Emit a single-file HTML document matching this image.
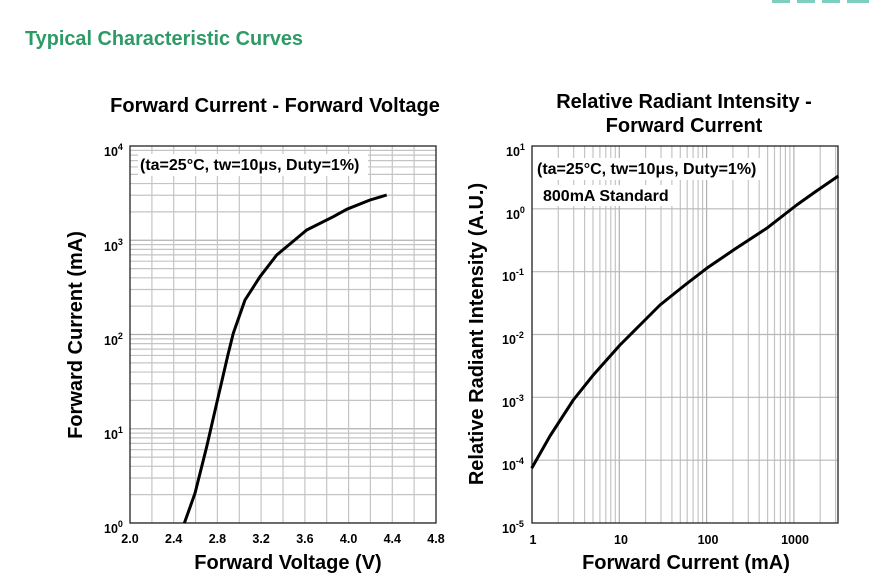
<!DOCTYPE html>
<html><head><meta charset="utf-8"><style>
html,body{margin:0;padding:0;background:#fff;}
svg{display:block;font-family:"Liberation Sans",Arial,sans-serif;}
</style></head><body>
<svg width="874" height="582" viewBox="0 0 874 582" xmlns="http://www.w3.org/2000/svg">
<defs>
<clipPath id="cl"><rect x="130" y="146" width="306" height="377"/></clipPath>
<clipPath id="cr"><rect x="532" y="146" width="306" height="377"/></clipPath>
<g id="hdec" stroke="#c4c4c4" stroke-width="1.2">
<line x1="130" x2="436" y1="-28.4" y2="-28.4"/><line x1="130" x2="436" y1="-45" y2="-45"/>
<line x1="130" x2="436" y1="-56.7" y2="-56.7"/><line x1="130" x2="436" y1="-65.9" y2="-65.9"/>
<line x1="130" x2="436" y1="-73.3" y2="-73.3"/><line x1="130" x2="436" y1="-79.6" y2="-79.6"/>
<line x1="130" x2="436" y1="-85.1" y2="-85.1"/><line x1="130" x2="436" y1="-89.9" y2="-89.9"/>
<line x1="130" x2="436" y1="0" y2="0" stroke="#b0b0b0"/>
</g>
<g id="vdec" stroke="#c4c4c4" stroke-width="1.2">
<line y1="146" y2="523" x1="26.3" x2="26.3"/><line y1="146" y2="523" x1="41.7" x2="41.7"/>
<line y1="146" y2="523" x1="52.6" x2="52.6"/><line y1="146" y2="523" x1="61" x2="61"/>
<line y1="146" y2="523" x1="67.9" x2="67.9"/><line y1="146" y2="523" x1="73.8" x2="73.8"/>
<line y1="146" y2="523" x1="78.8" x2="78.8"/><line y1="146" y2="523" x1="83.3" x2="83.3"/>
<line y1="146" y2="523" x1="0" x2="0" stroke="#b0b0b0"/>
</g>
</defs>

<rect x="772" y="0" width="18" height="3" fill="#7fcfc0"/><rect x="797" y="0" width="18" height="3" fill="#7fcfc0"/><rect x="822" y="0" width="18" height="3" fill="#7fcfc0"/><rect x="847" y="0" width="22" height="3" fill="#7fcfc0"/>
<text x="25" y="45" font-size="20" font-weight="bold" fill="#2e9a66" textLength="278" lengthAdjust="spacingAndGlyphs">Typical Characteristic Curves</text>

<!-- LEFT CHART -->
<text x="275" y="112" font-size="20" font-weight="bold" text-anchor="middle">Forward Current - Forward Voltage</text>
<g clip-path="url(#cl)">
<use href="#hdec" transform="translate(0,523)"/>
<use href="#hdec" transform="translate(0,428.75)"/>
<use href="#hdec" transform="translate(0,334.5)"/>
<use href="#hdec" transform="translate(0,240.25)"/>
<g stroke="#c4c4c4" stroke-width="1.2">
<line y1="146" y2="523" x1="151.9" x2="151.9"/><line y1="146" y2="523" x1="173.7" x2="173.7"/>
<line y1="146" y2="523" x1="195.6" x2="195.6"/><line y1="146" y2="523" x1="217.4" x2="217.4"/>
<line y1="146" y2="523" x1="239.3" x2="239.3"/><line y1="146" y2="523" x1="261.1" x2="261.1"/>
<line y1="146" y2="523" x1="283" x2="283"/><line y1="146" y2="523" x1="304.9" x2="304.9"/>
<line y1="146" y2="523" x1="326.7" x2="326.7"/><line y1="146" y2="523" x1="348.6" x2="348.6"/>
<line y1="146" y2="523" x1="370.4" x2="370.4"/><line y1="146" y2="523" x1="392.3" x2="392.3"/>
<line y1="146" y2="523" x1="414.1" x2="414.1"/>
</g>
</g>
<rect x="130" y="146" width="306" height="377" fill="none" stroke="#222" stroke-width="1.3"/>
<rect x="138" y="154" width="230" height="22" fill="#fff"/>
<text x="140" y="170" font-size="16" font-weight="bold">(ta=25°C, tw=10μs, Duty=1%)</text>
<path d="M184.3,523.3 L195,493.3 L206.7,446.7 L216.7,403.3 L228.3,353.3 L233.3,333.3 L245,300 L260,276.7 L276.7,255 L306.7,230 L333.3,216.7 L346.7,209.3 L370,200 L386.7,195" fill="none" stroke="#000" stroke-width="3" stroke-linejoin="round"/>
<g font-size="12.5" font-weight="bold">
<text x="104" y="156">10<tspan dy="-6" font-size="9">4</tspan></text>
<text x="104" y="251">10<tspan dy="-6" font-size="9">3</tspan></text>
<text x="104" y="345">10<tspan dy="-6" font-size="9">2</tspan></text>
<text x="104" y="439">10<tspan dy="-6" font-size="9">1</tspan></text>
<text x="104" y="533">10<tspan dy="-6" font-size="9">0</tspan></text>
</g>
<g font-size="12.5" font-weight="bold" text-anchor="middle">
<text x="130" y="543">2.0</text><text x="173.7" y="543">2.4</text><text x="217.4" y="543">2.8</text>
<text x="261.1" y="543">3.2</text><text x="304.9" y="543">3.6</text><text x="348.6" y="543">4.0</text>
<text x="392.3" y="543">4.4</text><text x="436" y="543">4.8</text>
</g>
<text x="288" y="569" font-size="20" font-weight="bold" text-anchor="middle">Forward Voltage (V)</text>
<text transform="translate(82,335) rotate(-90)" font-size="20" font-weight="bold" text-anchor="middle">Forward Current (mA)</text>

<!-- RIGHT CHART -->
<text x="684" y="108" font-size="20" font-weight="bold" text-anchor="middle">Relative Radiant Intensity -</text>
<text x="684" y="132" font-size="20" font-weight="bold" text-anchor="middle">Forward Current</text>
<g clip-path="url(#cr)">
<use href="#vdec" transform="translate(532,0)"/>
<use href="#vdec" transform="translate(619.3,0)"/>
<use href="#vdec" transform="translate(706.6,0)"/>
<use href="#vdec" transform="translate(793.9,0)"/>
<g stroke="#b8b8b8" stroke-width="1.2">
<line x1="532" x2="838" y1="208.8" y2="208.8"/><line x1="532" x2="838" y1="271.7" y2="271.7"/>
<line x1="532" x2="838" y1="334.5" y2="334.5"/><line x1="532" x2="838" y1="397.3" y2="397.3"/>
<line x1="532" x2="838" y1="460.2" y2="460.2"/>
</g>
</g>
<rect x="532" y="146" width="306" height="377" fill="none" stroke="#222" stroke-width="1.3"/>
<rect x="536" y="158" width="230" height="22" fill="#fff"/>
<text x="537" y="174" font-size="16" font-weight="bold">(ta=25°C, tw=10μs, Duty=1%)</text>
<rect x="541" y="185" width="136" height="21" fill="#fff"/>
<text x="543" y="201" font-size="16" font-weight="bold">800mA Standard</text>
<path d="M531.7,468.3 L550,436 L573.3,400 L593.3,375 L620,345 L640,325 L660,305 L685,285 L706.7,268.3 L735,249 L766.7,228.3 L796.7,205 L815,192 L838.3,176" fill="none" stroke="#000" stroke-width="3" stroke-linejoin="round"/>
<g font-size="12.5" font-weight="bold">
<text x="506" y="156">10<tspan dy="-6" font-size="9">1</tspan></text>
<text x="506" y="219">10<tspan dy="-6" font-size="9">0</tspan></text>
<text x="502" y="281">10<tspan dy="-6" font-size="9">-1</tspan></text>
<text x="502" y="344">10<tspan dy="-6" font-size="9">-2</tspan></text>
<text x="502" y="407">10<tspan dy="-6" font-size="9">-3</tspan></text>
<text x="502" y="470">10<tspan dy="-6" font-size="9">-4</tspan></text>
<text x="502" y="533">10<tspan dy="-6" font-size="9">-5</tspan></text>
</g>
<g font-size="12.5" font-weight="bold" text-anchor="middle">
<text x="533" y="544">1</text><text x="621" y="544">10</text><text x="708" y="544">100</text><text x="795" y="544">1000</text>
</g>
<text x="686" y="569" font-size="20" font-weight="bold" text-anchor="middle">Forward Current (mA)</text>
<text transform="translate(483,334) rotate(-90)" font-size="20" font-weight="bold" text-anchor="middle">Relative Radiant Intensity (A.U.)</text>
</svg>
</body></html>
